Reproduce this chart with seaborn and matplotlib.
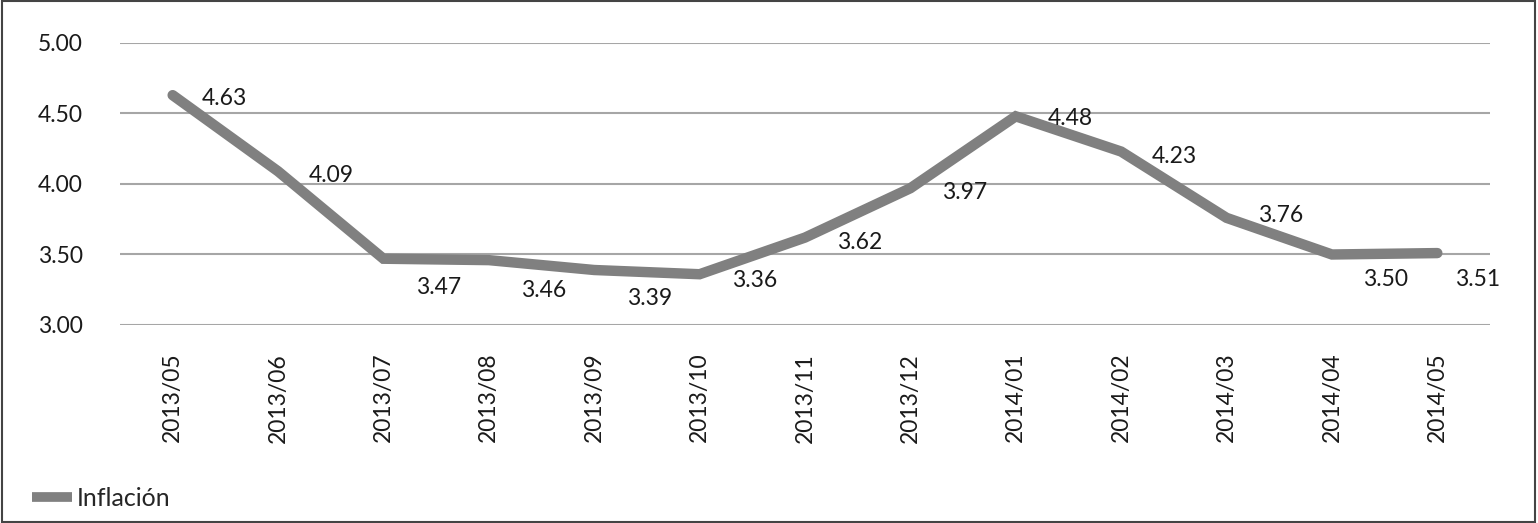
import pandas as pd
import seaborn as sns
import matplotlib.pyplot as plt
from matplotlib.patches import Rectangle

# datos de inflacion mensual
meses = ['2013/05', '2013/06', '2013/07', '2013/08', '2013/09', '2013/10', '2013/11',
         '2013/12', '2014/01', '2014/02', '2014/03', '2014/04', '2014/05']
inflacion = [4.63, 4.09, 3.47, 3.46, 3.39, 3.36, 3.62, 3.97, 4.48, 4.23, 3.76, 3.50, 3.51]

# desplazamiento de las etiquetas (pixeles) - unas a la derecha, otras abajo
lbl_dx = [52, 53, 55, 55, 55, 55, 55, 54, 55, 53, 54, 54, 40]
lbl_dy = [-3, -4, -29, -30, -28, -6, -5, -4, -2, -5, 2, -25, -26]

sns.set_style('white')
plt.rcParams['font.family'] = ['Lato', 'DejaVu Sans']

df = pd.DataFrame({'mes': meses, 'inflacion': inflacion})

fig = plt.figure(figsize=(15.38, 5.23), dpi=100)
ax = fig.add_axes([0.078, 0.3786, 0.8908, 0.5392])

gris = '#808080'
sns.lineplot(data=df, x='mes', y='inflacion', sort=False, ax=ax, color=gris,
             linewidth=7.5, solid_capstyle='round', solid_joinstyle='miter', label='Inflación')

for i, v in enumerate(inflacion):
    ax.annotate(f'{v:.2f}', (i, v), xytext=(lbl_dx[i], lbl_dy[i]), textcoords='offset pixels',
                ha='center', va='center', fontsize=16.5, color='#1a1a1a')

ax.set_ylim(3.0, 5.0)
ax.set_xlim(-0.5, len(meses) - 0.5)
ax.set_yticks([3.0, 3.5, 4.0, 4.5, 5.0])
ax.set_yticklabels([f'{t:.2f}' for t in [3.0, 3.5, 4.0, 4.5, 5.0]])
ax.yaxis.grid(True, color='#a6a6a6', linewidth=1.5)
ax.set_axisbelow(True)
ax.set_xlabel('')
ax.set_ylabel('')
for s in ax.spines.values():
    s.set_visible(False)
ax.tick_params(axis='y', length=0, pad=59, labelsize=16.5, labelcolor='#1a1a1a')
ax.tick_params(axis='x', length=0, pad=20, labelsize=16.5, labelcolor='#1a1a1a', labelrotation=90)
for t in ax.get_yticklabels():
    t.set_horizontalalignment('left')

leg = ax.legend(loc='lower left', bbox_to_anchor=(0.006, -0.018), bbox_transform=fig.transFigure,
                frameon=False, fontsize=18, handlelength=1.6, handletextpad=0.2)
for h in leg.get_lines():
    h.set_linewidth(7)
    h.set_solid_capstyle('butt')

# marco alrededor de la figura
fig.patches.append(Rectangle((0.001, 0.002), 0.997, 0.996, transform=fig.transFigure,
                             fill=False, edgecolor='#444444', linewidth=1.5))

fig.savefig('out.png', dpi=100)
